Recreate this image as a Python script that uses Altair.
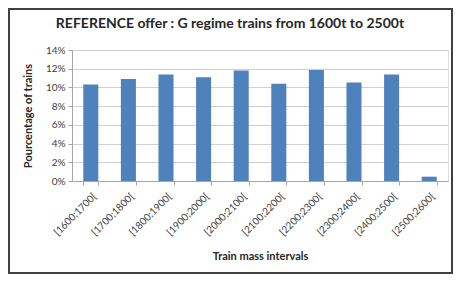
import altair as alt
import pandas as pd

intervals = ["[1600;1700[", "[1700;1800[", "[1800;1900[", "[1900;2000[", "[2000;2100[",
             "[2100;2200[", "[2200;2300[", "[2300;2400[", "[2400;2500[", "[2500;2600["]
shares = [0.1032, 0.1089, 0.1139, 0.1110, 0.1180, 0.1039, 0.1185, 0.1053, 0.1139, 0.0046]
y_ticks = [0, 0.02, 0.04, 0.06, 0.08, 0.10, 0.12, 0.14]

df = pd.DataFrame({"interval": intervals, "share": shares})

font = "Lato"
W, H = 376, 131
PAD = {"left": 64, "top": 42, "right": 5, "bottom": 93}

bars = alt.Chart(df).mark_bar(color="#4F81BD").encode(
    x=alt.X("interval:N", sort=intervals,
            scale=alt.Scale(paddingInner=0.6, paddingOuter=0.3),
            axis=alt.Axis(title="Train mass intervals", labelAngle=-45, labelAlign="right",
                          labelBaseline="top", labelFontSize=10, labelColor="#404040",
                          labelFont=font, titleFont=font, titleFontSize=11,
                          titleFontWeight="bold", titleColor="#262626", titlePadding=13,
                          domainColor="#a6a6a6", tickColor="#a6a6a6", tickBand="extent",
                          tickSize=4, labelPadding=6, grid=False)),
    y=alt.Y("share:Q", scale=alt.Scale(domain=[0, 0.14]),
            axis=alt.Axis(title="Pourcentage of trains", format=".0%", values=y_ticks,
                          labelFontSize=10, labelColor="#404040", labelFont=font,
                          titleFont=font, titleFontSize=11, titleFontWeight="bold",
                          titleColor="#262626", titlePadding=12,
                          domainColor="#a6a6a6", tickColor="#a6a6a6", tickSize=4,
                          gridColor="#d0d0d0", labelPadding=3)),
)

frame = alt.Chart(df).mark_rect(fill=None, stroke="#404040", strokeWidth=1.5).encode(
    x=alt.value(-PAD["left"] + 1), x2=alt.value(W + PAD["right"] - 1),
    y=alt.value(-PAD["top"] + 1), y2=alt.value(H + PAD["bottom"] - 1),
)

chart = alt.layer(bars, frame).properties(
    width=W, height=H,
    title=alt.TitleParams("REFERENCE offer : G regime trains from 1600t to 2500t",
                          font=font, fontSize=14, fontWeight="bold", color="#262626",
                          anchor="middle", offset=-23, dx=-30),
    autosize=alt.AutoSizeParams(type="none"),
    padding=PAD,
).configure_view(stroke=None).configure(background="white")

chart.save("out.html", embed_options={"renderer": "svg", "actions": False})
